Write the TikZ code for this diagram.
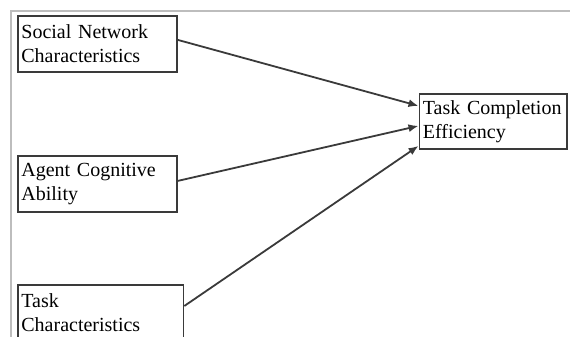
\documentclass[tikz,border=0pt]{standalone}
\usepackage{fontspec}
\setmainfont{Liberation Serif}
\usetikzlibrary{arrows.meta}
\definecolor{boxline}{HTML}{3A3A3A}
\definecolor{frameline}{HTML}{BDBDBD}
\begin{document}
\begin{tikzpicture}[x=1pt,y=-1pt,
  box/.style={draw=boxline, line width=1.8pt, anchor=north west, inner sep=0pt,
    align=left, font=\fontsize{20}{24}\selectfont, text=black,
    minimum height=56pt, text width=#1, execute at begin node={\hspace*{3.5pt}}},
  link/.style={draw=boxline, line width=1.8pt, -{Latex[length=10pt,width=8pt]}}]
\useasboundingbox (0,0) rectangle (570,337);
\clip (0,0) rectangle (570,337);
\draw[frameline, line width=1.3pt] (11,337) -- (11,11) -- (570,11);
\node[box=159pt] (b1) at (17,15) {Social Network\\\hspace*{3.5pt}Characteristics};
\node[box=159pt] (b2) at (17,155) {Agent Cognitive\\\hspace*{3.5pt}Ability};
\node[box=165.5pt] (b3) at (17,284) {Task\\\hspace*{3.5pt}Characteristics};
\node[box=147.5pt, minimum height=55pt] (t) at (418.5,93) {Task Completion\\\hspace*{3.5pt}Efficiency};
\draw[link] ([yshift=4pt]b1.east) -- ([yshift=15.5pt]t.west);
\draw[link] ([yshift=3pt]b2.east) -- ([yshift=-4.5pt]t.west);
\draw[link] ([yshift=-22pt]b3.north east) -- ([yshift=-24.5pt]t.west);
\end{tikzpicture}
\end{document}
